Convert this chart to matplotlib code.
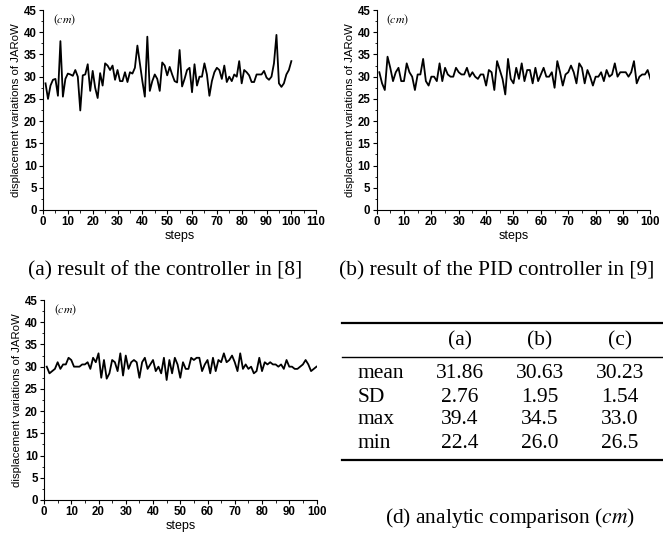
import numpy as np
import matplotlib
matplotlib.use('Agg')
import matplotlib.pyplot as plt
from matplotlib.ticker import MultipleLocator

plt.rcParams['mathtext.fontset'] = 'stix'

# =====================================
# Data
# =====================================
steps = np.arange(1, 101)

disp_a = [28.5, 25.0, 28.0, 29.3, 29.5, 25.7, 38.0, 25.5, 29.5, 30.7,
          30.5, 30.2, 31.5, 30.0, 22.4, 30.3, 30.5, 32.8, 26.8, 31.3,
          27.5, 25.2, 30.8, 28.0, 33.0, 32.5, 31.5, 32.5, 29.3, 31.5,
          29.0, 29.0, 31.0, 28.8, 31.0, 30.7, 32.0, 37.0, 33.0, 29.0,
          25.5, 39.0, 26.8, 29.0, 30.5, 29.5, 26.8, 33.2, 32.5, 30.3,
          32.2, 30.5, 29.0, 28.7, 36.0, 27.8, 29.5, 31.5, 32.0, 26.5,
          32.8, 28.0, 30.0, 30.0, 33.0, 30.5, 25.7, 29.0, 31.0, 32.0,
          31.5, 29.5, 32.5, 28.8, 30.0, 29.0, 30.5, 30.0, 33.5, 28.5,
          31.5, 31.0, 30.3, 28.8, 28.8, 30.5, 30.5, 30.5, 31.3, 29.8,
          29.3, 30.0, 33.0, 39.4, 28.5, 27.7, 28.5, 30.5, 31.5, 33.5]

disp_b = [31.0, 28.5, 27.0, 34.5, 32.0, 29.0, 31.0, 32.0, 29.0, 29.0,
          33.0, 31.0, 30.0, 27.0, 30.5, 30.5, 34.0, 29.0, 28.0, 30.0,
          30.0, 29.0, 33.0, 29.0, 32.0, 30.5, 30.0, 30.0, 32.0, 31.0,
          30.5, 30.5, 32.0, 30.0, 31.0, 30.0, 29.5, 30.5, 30.5, 28.0,
          31.5, 31.0, 27.0, 33.5, 31.5, 29.5, 26.0, 34.0, 29.5, 28.5,
          32.0, 29.5, 33.0, 29.0, 31.5, 31.5, 28.5, 32.0, 29.0, 30.5,
          32.0, 30.0, 30.0, 31.0, 27.5, 33.5, 31.0, 28.0, 30.5, 31.0,
          32.5, 31.0, 28.5, 33.0, 32.0, 28.5, 31.5, 30.0, 28.0, 30.0,
          30.0, 31.0, 29.0, 31.5, 30.0, 30.5, 33.0, 30.0, 31.0, 31.0,
          31.0, 30.0, 31.0, 33.5, 28.5, 30.0, 30.5, 30.5, 31.5, 29.5]

disp_c = [30.0, 28.5, 29.0, 29.5, 31.0, 29.5, 30.5, 30.5, 32.0, 31.5,
          30.0, 30.0, 30.0, 30.5, 30.5, 31.0, 29.5, 32.0, 31.0, 33.0,
          27.5, 31.5, 27.3, 28.5, 31.5, 31.0, 29.0, 33.0, 28.0, 32.5,
          29.5, 31.0, 31.5, 31.0, 27.5, 31.0, 32.0, 29.5, 30.5, 31.5,
          29.0, 30.0, 28.5, 32.0, 27.0, 31.5, 28.5, 32.0, 30.5, 27.5,
          31.0, 29.5, 29.5, 32.0, 31.5, 32.0, 32.0, 29.0, 30.5, 31.5,
          28.5, 32.0, 29.0, 31.5, 31.0, 33.0, 31.0, 31.5, 32.5, 31.0,
          29.0, 33.0, 29.5, 30.5, 29.5, 30.0, 28.5, 29.0, 32.0, 29.0,
          31.0, 30.5, 31.0, 30.5, 30.5, 30.0, 30.5, 29.5, 31.5, 30.0,
          30.0, 29.5, 29.5, 30.0, 30.5, 31.5, 30.5, 29.0, 29.5, 30.0]

# table values
table_cols = ['(a)', '(b)', '(c)']
table_rows = ['mean', 'SD', 'max', 'min']
table_vals = [['31.86', '30.63', '30.23'],
              ['2.76', '1.95', '1.54'],
              ['39.4', '34.5', '33.0'],
              ['22.4', '26.0', '26.5']]

tick_font = ['Liberation Sans Narrow', 'Liberation Sans', 'DejaVu Sans']
sans_font = ['Liberation Sans', 'DejaVu Sans']
serif_font = ['Liberation Serif', 'DejaVu Serif']

# =====================================
# Figure
# =====================================
fig = plt.figure(figsize=(6.63, 5.39), dpi=100)


def draw_panel(rect, y, xmax):
    ax = fig.add_axes(rect)
    ax.plot(steps, y, color='black', linewidth=1.3)
    ax.set_xlim(0, xmax)
    ax.set_ylim(0, 45)
    ax.xaxis.set_major_locator(MultipleLocator(10))
    ax.xaxis.set_minor_locator(MultipleLocator(5))
    ax.yaxis.set_major_locator(MultipleLocator(5))
    ax.yaxis.set_minor_locator(MultipleLocator(2.5))
    ax.spines['top'].set_visible(False)
    ax.spines['right'].set_visible(False)
    ax.tick_params(which='major', direction='out', length=3, width=0.8,
                   labelsize=8.3, pad=1.5)
    ax.tick_params(which='minor', direction='out', length=1.8, width=0.6)
    for lab in ax.get_xticklabels() + ax.get_yticklabels():
        lab.set_family(tick_font)
        lab.set_fontweight('bold')
    ax.set_xlabel('steps', fontsize=9, family=sans_font, labelpad=1)
    ax.set_ylabel('displacement variations of JARoW', fontsize=8.2,
                  family=tick_font, labelpad=2)
    ax.text(0.035, 0.99, '$(cm)$', transform=ax.transAxes, fontsize=8.5,
            ha='left', va='top')
    return ax


# panel positions (fig fractions)
draw_panel([0.0649, 0.6104, 0.412, 0.371], disp_a, 110)
draw_panel([0.568, 0.6104, 0.413, 0.371], disp_b, 100)
draw_panel([0.0664, 0.0724, 0.411, 0.371], disp_c, 100)

# captions
fig.text(165 / 663, 1 - 271 / 539, '(a) result of the controller in [8]',
         ha='center', va='center', fontsize=15.5, family=serif_font)
fig.text(497 / 663, 1 - 271 / 539, '(b) result of the PID controller in [9]',
         ha='center', va='center', fontsize=15.5, family=serif_font)
fig.text(510 / 663, 1 - 518 / 539, '(d) analytic comparison ($cm$)',
         ha='center', va='center', fontsize=15.5, family=serif_font)

# =====================================
# Table (d), drawn in pixel-like coordinates
# =====================================
tab = fig.add_axes([0, 0, 1, 1])
tab.set_xlim(0, 663)
tab.set_ylim(539, 0)
tab.axis('off')

for yy, lw in [(323, 1.6), (357, 1.0), (460, 1.6)]:
    tab.plot([342, 663], [yy, yy], color='black', linewidth=lw)

col_x = [460, 540, 620]
row_y = [373, 397, 420, 443]
for cx, name in zip(col_x, table_cols):
    tab.text(cx, 341, name, ha='center', va='center', fontsize=15.5,
             family=serif_font)
for ry, rname, vals in zip(row_y, table_rows, table_vals):
    tab.text(358, ry, rname, ha='left', va='center', fontsize=15.5,
             family=serif_font)
    for cx, v in zip(col_x, vals):
        tab.text(cx, ry, v, ha='center', va='center', fontsize=15.5,
                 family=serif_font)

plt.savefig('out.png', dpi=100)
